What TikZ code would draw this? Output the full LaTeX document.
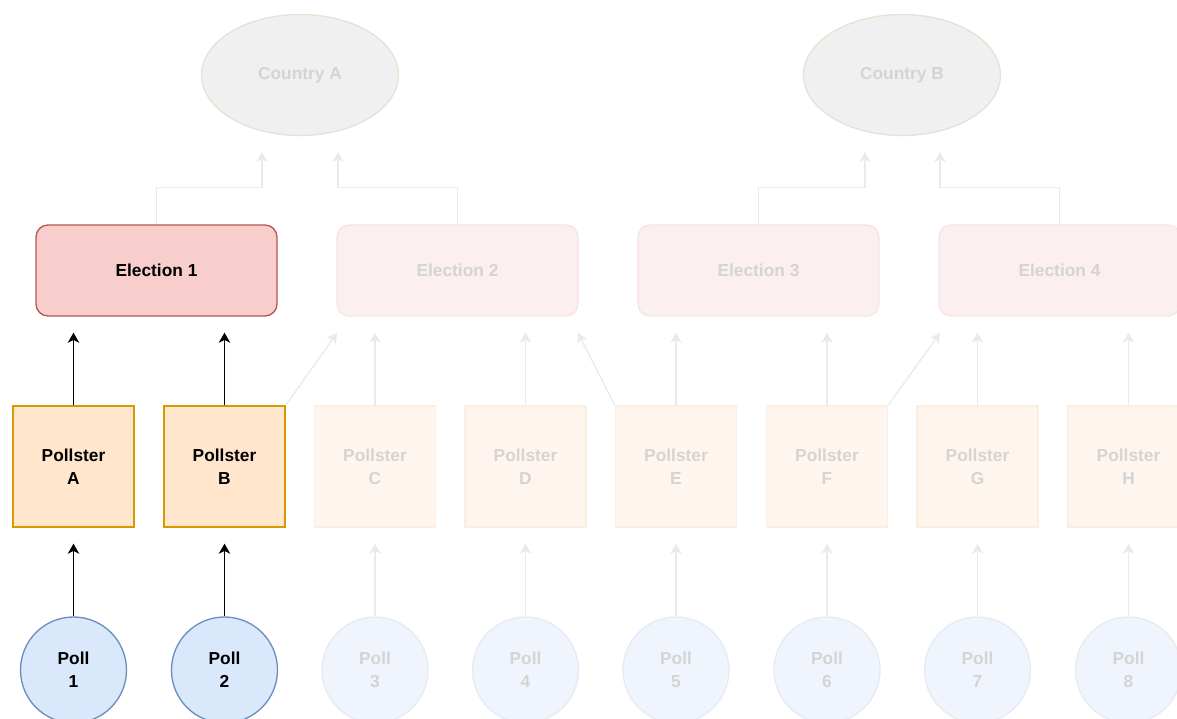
\documentclass[tikz,border=0pt]{standalone}
\usepackage{fontspec}
\setmainfont{Liberation Sans}
\usetikzlibrary{arrows.meta,shapes.geometric}
\definecolor{elfill}{HTML}{F8CECC}
\definecolor{elline}{HTML}{B85450}
\definecolor{psfill}{HTML}{FFE6CC}
\definecolor{psline}{HTML}{D79B00}
\definecolor{plfill}{HTML}{DAE8FC}
\definecolor{plline}{HTML}{6C8EBF}
\definecolor{felfill}{HTML}{FCEFEF}
\definecolor{felline}{HTML}{F7E4E4}
\definecolor{fpsfill}{HTML}{FEF6EE}
\definecolor{fpsline}{HTML}{FBEEDF}
\definecolor{fplfill}{HTML}{F0F5FD}
\definecolor{fplline}{HTML}{E4EBF5}
\definecolor{cfill}{HTML}{F0F0F0}
\definecolor{cline}{HTML}{DAE9D3}
\definecolor{ftext}{HTML}{D4D4D4}
\definecolor{farrow}{HTML}{EAEAEA}
\tikzset{
  base/.style={font=\fontsize{13}{17}\selectfont\bfseries, align=center, inner sep=0pt},
  elbox/.style={base, rectangle, rounded corners=9pt, minimum width=180.75pt, minimum height=68.25pt, line width=1pt},
  el/.style={elbox, draw=elline, fill=elfill},
  fel/.style={elbox, draw=felline, fill=felfill, text=ftext},
  psbox/.style={base, rectangle, minimum width=90.75pt, minimum height=90.75pt, line width=1pt},
  ps/.style={psbox, draw=psline, fill=psfill},
  fps/.style={psbox, draw=fpsline, fill=fpsfill, text=ftext},
  plbox/.style={base, circle, minimum size=79.5pt, line width=1pt},
  pl/.style={plbox, draw=plline, fill=plfill},
  fpl/.style={plbox, draw=fplline, fill=fplfill, text=ftext},
  country/.style={base, ellipse, minimum width=147.75pt, minimum height=90.75pt, draw=cline, fill=cfill, text=ftext, line width=1pt},
  arr/.style={-{Stealth[length=7.5pt,width=8.5pt,inset=2pt]}, line width=1.1pt, black},
  farr/.style={-{Stealth[length=7.5pt,width=8.5pt,inset=2pt]}, line width=1pt, farrow},
  gap/.style={shorten >=12pt}
}
\begin{document}
\begin{tikzpicture}[x=0.75pt,y=-0.75pt]
\useasboundingbox (0,0) rectangle (1177,718);
\clip (0,0) rectangle (1177,718);
% countries
\node[country] (cA) at (300,75) {Country A};
\node[country] (cB) at (902,75) {Country B};
% elections
\node[el]  (e1) at (156.5,270.5) {Election 1};
\node[fel] (e2) at (457.5,270.5) {Election 2};
\node[fel] (e3) at (758.5,270.5) {Election 3};
\node[fel] (e4) at (1059.5,270.5) {Election 4};
% pollsters
\node[ps]  (pA) at (73.5,466.5) {Pollster\\A};
\node[ps]  (pB) at (224.5,466.5) {Pollster\\B};
\node[fps] (pC) at (375,466.5) {Pollster\\C};
\node[fps] (pD) at (525.5,466.5) {Pollster\\D};
\node[fps] (pE) at (676,466.5) {Pollster\\E};
\node[fps] (pF) at (827,466.5) {Pollster\\F};
\node[fps] (pG) at (977.5,466.5) {Pollster\\G};
\node[fps] (pH) at (1128.5,466.5) {Pollster\\H};
% polls
\node[pl]  (q1) at (73.5,670) {Poll\\1};
\node[pl]  (q2) at (224.5,670) {Poll\\2};
\node[fpl] (q3) at (375,670) {Poll\\3};
\node[fpl] (q4) at (525.5,670) {Poll\\4};
\node[fpl] (q5) at (676,670) {Poll\\5};
\node[fpl] (q6) at (827,670) {Poll\\6};
\node[fpl] (q7) at (977.5,670) {Poll\\7};
\node[fpl] (q8) at (1128.5,670) {Poll\\8};
% poll -> pollster
\draw[arr,gap] (q1.north) -- (pA.south);
\draw[arr,gap] (q2.north) -- (pB.south);
\draw[farr,gap] (q3.north) -- (pC.south);
\draw[farr,gap] (q4.north) -- (pD.south);
\draw[farr,gap] (q5.north) -- (pE.south);
\draw[farr,gap] (q6.north) -- (pF.south);
\draw[farr,gap] (q7.north) -- (pG.south);
\draw[farr,gap] (q8.north) -- (pH.south);
% pollster -> election (vertical)
\draw[arr,gap] (pA.north) -- (pA.north |- e1.south);
\draw[arr,gap] (pB.north) -- (pB.north |- e1.south);
\draw[farr,gap] (pC.north) -- (pC.north |- e2.south);
\draw[farr,gap] (pD.north) -- (pD.north |- e2.south);
\draw[farr,gap] (pE.north) -- (pE.north |- e3.south);
\draw[farr,gap] (pF.north) -- (pF.north |- e3.south);
\draw[farr,gap] (pG.north) -- (pG.north |- e4.south);
\draw[farr,gap] (pH.north) -- (pH.north |- e4.south);
% diagonal pollster -> election
\coordinate (dB) at (337,333);
\coordinate (dE) at (578,333);
\coordinate (dF) at (940,333);
\draw[farr] (pB.north east) -- (dB);
\draw[farr] (pE.north west) -- (dE);
\draw[farr] (pF.north east) -- (dF);
% election -> country
\coordinate (kA1) at (262,152);
\coordinate (kA2) at (338,152);
\coordinate (kB1) at (865,152);
\coordinate (kB2) at (940,152);
\draw[farr] (e1.north) -- ++(0,-37) -| (kA1);
\draw[farr] (e2.north) -- ++(0,-37) -| (kA2);
\draw[farr] (e3.north) -- ++(0,-37) -| (kB1);
\draw[farr] (e4.north) -- ++(0,-37) -| (kB2);
\end{tikzpicture}
\end{document}
